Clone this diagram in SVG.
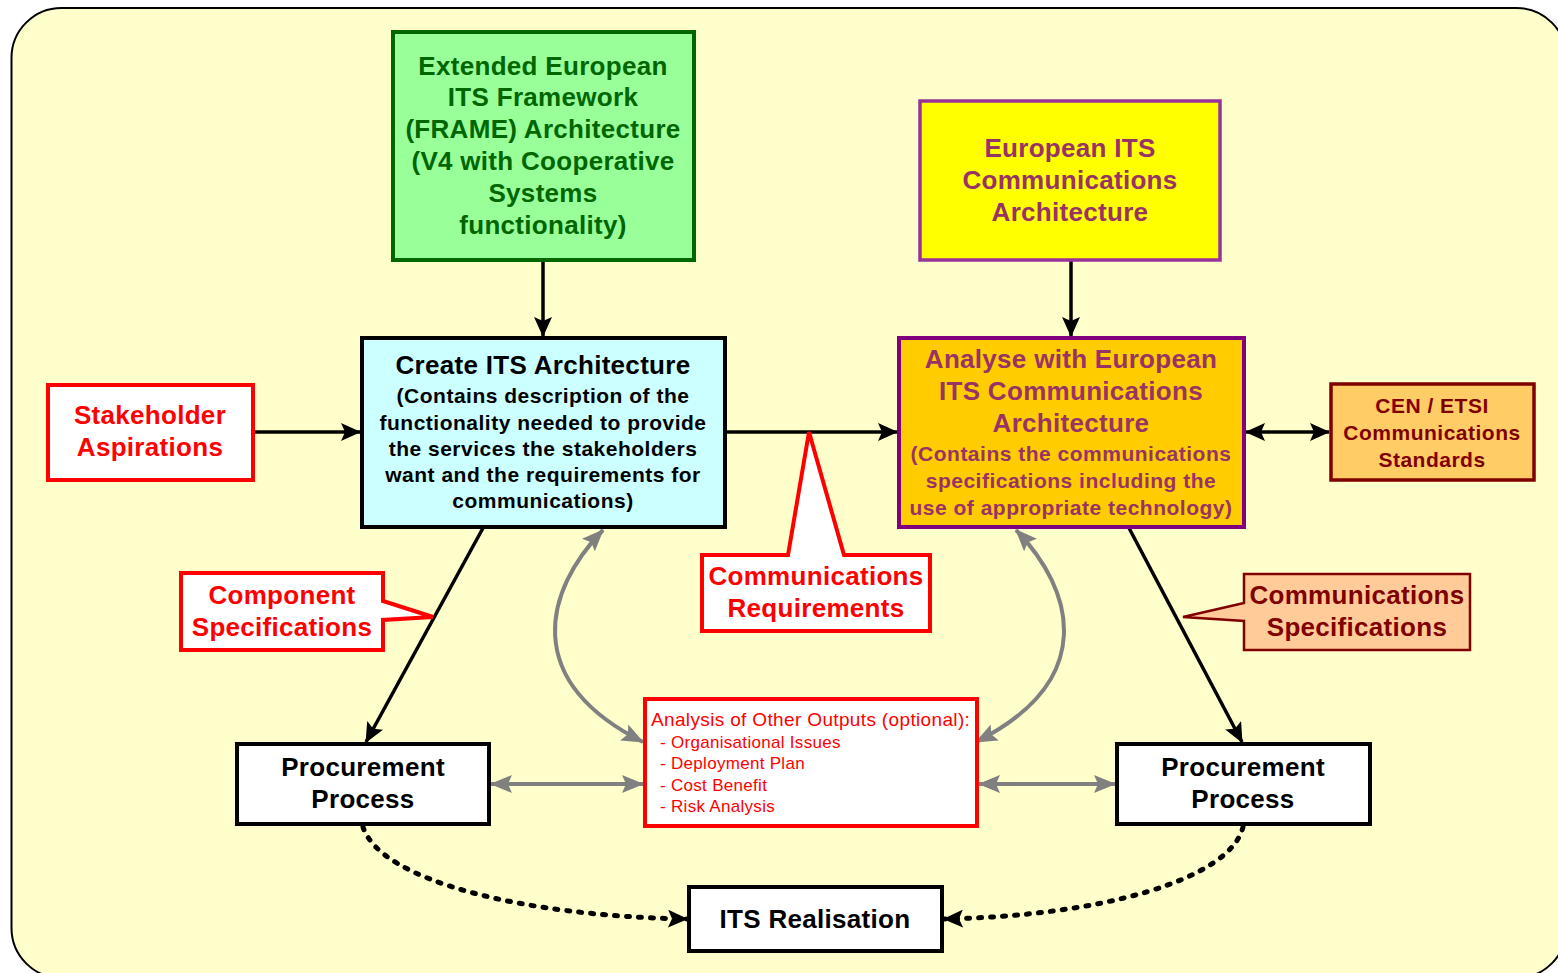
<svg xmlns="http://www.w3.org/2000/svg" width="1558" height="973" viewBox="0 0 1558 973">
  <style>
    text { font-family: "Liberation Sans", Arial, sans-serif; text-anchor: middle; dominant-baseline: central; }
    .b { font-weight: bold; }
    .t25 { font-size: 26px; letter-spacing: 0.3px; }
    .t20 { font-size: 21px; letter-spacing: 0.5px; }
    .left { text-anchor: start; }
    .head { font-size: 19px; letter-spacing: 0.35px; }
    .item { font-size: 17px; letter-spacing: 0.3px; }
    .box { stroke-width: 4; }
    .link { fill: none; stroke: #000; stroke-width: 3.5; }
    .grey { fill: none; stroke: #808080; stroke-width: 4; }
    .dots { fill: none; stroke: #000; stroke-width: 5; stroke-linecap: round; stroke-dasharray: 3 9; }
  </style>
  <defs>
    <marker id="ah" markerUnits="userSpaceOnUse" markerWidth="20" markerHeight="18" viewBox="0 0 20 18" refX="19" refY="9" orient="auto-start-reverse">
      <path d="M0,0 L20,9 L0,18 L4,9 z" fill="#000"/>
    </marker>
    <marker id="ahg" markerUnits="userSpaceOnUse" markerWidth="22" markerHeight="18" viewBox="0 0 22 18" refX="21" refY="9" orient="auto-start-reverse">
      <path d="M0,0 L22,9 L0,18 L4,9 z" fill="#808080"/>
    </marker>
  </defs>

  <!-- backdrop panel -->
  <rect x="11.5" y="8" width="1555" height="970" rx="50" fill="#ffffcc" stroke="#000" stroke-width="2"/>

  <!-- connectors -->
  <g id="connectors">
    <line class="link" x1="543" y1="261" x2="543" y2="336" marker-end="url(#ah)"/>
    <line class="link" x1="1071" y1="261" x2="1071" y2="336" marker-end="url(#ah)"/>
    <line class="link" x1="254" y1="432" x2="360" y2="432" marker-end="url(#ah)"/>
    <line class="link" x1="726" y1="432" x2="897" y2="432" marker-end="url(#ah)"/>
    <line class="link" x1="1246" y1="432" x2="1329" y2="432" marker-start="url(#ah)" marker-end="url(#ah)"/>
    <line class="link" x1="483" y1="528" x2="366" y2="742" marker-end="url(#ah)"/>
    <line class="link" x1="1129" y1="528" x2="1242" y2="742" marker-end="url(#ah)"/>
    <path class="grey" d="M603,530 C545,590 520,680 643,742" marker-start="url(#ahg)" marker-end="url(#ahg)"/>
    <path class="grey" d="M1016,530 C1074,590 1099,680 976,742" marker-start="url(#ahg)" marker-end="url(#ahg)"/>
    <line class="grey" x1="491" y1="784" x2="643" y2="784" marker-start="url(#ahg)" marker-end="url(#ahg)"/>
    <line class="grey" x1="979" y1="784" x2="1115" y2="784" marker-start="url(#ahg)" marker-end="url(#ahg)"/>
    <path class="dots" d="M363,827 C380,880 520,916 687,919" marker-end="url(#ah)"/>
    <path class="dots" d="M1243,827 C1230,880 1100,916 944,919" marker-end="url(#ah)"/>
  </g>

  <!-- FRAME architecture -->
  <g id="frame">
    <rect class="box" x="393" y="32" width="301" height="228" fill="#99ff99" stroke="#006600"/>
    <g fill="#006600">
      <text class="b t25" x="543" y="66">Extended European</text>
      <text class="b t25" x="543" y="97">ITS Framework</text>
      <text class="b t25" x="543" y="129">(FRAME) Architecture</text>
      <text class="b t25" x="543" y="161">(V4 with Cooperative</text>
      <text class="b t25" x="543" y="193">Systems</text>
      <text class="b t25" x="543" y="225">functionality)</text>
    </g>
  </g>

  <!-- European ITS communications architecture -->
  <g id="comms-arch">
    <rect x="920" y="101" width="300" height="159" fill="#ffff00" stroke="#993399" stroke-width="3.5"/>
    <g fill="#993366">
      <text class="b t25" x="1070" y="148">European ITS</text>
      <text class="b t25" x="1070" y="180">Communications</text>
      <text class="b t25" x="1070" y="212">Architecture</text>
    </g>
  </g>

  <!-- Create ITS architecture -->
  <g id="create">
    <rect class="box" x="362" y="338" width="363" height="189" fill="#ccffff" stroke="#000"/>
    <g fill="#000">
      <text class="b t25" x="543" y="365">Create ITS Architecture</text>
      <text class="b t20" x="543" y="395">(Contains description of the</text>
      <text class="b t20" x="543" y="422">functionality needed to provide</text>
      <text class="b t20" x="543" y="448">the services the stakeholders</text>
      <text class="b t20" x="543" y="474">want and the requirements for</text>
      <text class="b t20" x="543" y="500">communications)</text>
    </g>
  </g>

  <!-- Analyse with communications architecture -->
  <g id="analyse">
    <rect class="box" x="899" y="338" width="345" height="189" fill="#ffcc00" stroke="#800080"/>
    <g fill="#993366">
      <text class="b t25" x="1071" y="359">Analyse with European</text>
      <text class="b t25" x="1071" y="391">ITS Communications</text>
      <text class="b t25" x="1071" y="423">Architecture</text>
      <text class="b t20" x="1071" y="453">(Contains the communications</text>
      <text class="b t20" x="1071" y="480">specifications including the</text>
      <text class="b t20" x="1071" y="507">use of appropriate technology)</text>
    </g>
  </g>

  <!-- standards -->
  <g id="standards">
    <rect x="1331" y="384" width="203" height="96" fill="#ffcc66" stroke="#800000" stroke-width="3.5"/>
    <g fill="#800000">
      <text class="b t20" x="1432" y="405">CEN / ETSI</text>
      <text class="b t20" x="1432" y="432">Communications</text>
      <text class="b t20" x="1432" y="459">Standards</text>
    </g>
  </g>

  <!-- stakeholder aspirations -->
  <g id="stakeholders">
    <rect class="box" x="48" y="385" width="205" height="95" fill="#fff" stroke="#ff0000"/>
    <g fill="#ff0000">
      <text class="b t25" x="150" y="415">Stakeholder</text>
      <text class="b t25" x="150" y="447">Aspirations</text>
    </g>
  </g>

  <!-- callout: component specifications -->
  <g id="component-specs">
    <path d="M181,573 H383 V601 L433,617 L383,620 V650 H181 Z" fill="#fff" stroke="#ff0000" stroke-width="4"/>
    <g fill="#ff0000">
      <text class="b t25" x="282" y="595">Component</text>
      <text class="b t25" x="282" y="627">Specifications</text>
    </g>
  </g>

  <!-- callout: communications requirements -->
  <g id="comms-reqs">
    <path d="M702,555 H788 L809,432 L844,555 H930 V631 H702 Z" fill="#fff" stroke="#ff0000" stroke-width="4"/>
    <g fill="#ff0000">
      <text class="b t25" x="816" y="576">Communications</text>
      <text class="b t25" x="816" y="608">Requirements</text>
    </g>
  </g>

  <!-- callout: communications specifications -->
  <g id="comms-specs">
    <path d="M1244,574 H1470 V650 H1244 V621 L1183,617 L1244,603 Z" fill="#ffcc99" stroke="#800000" stroke-width="2.5"/>
    <g fill="#800000">
      <text class="b t25" x="1357" y="595">Communications</text>
      <text class="b t25" x="1357" y="627">Specifications</text>
    </g>
  </g>

  <!-- other outputs -->
  <g id="other-outputs">
    <rect class="box" x="645" y="699" width="332" height="127" fill="#fff" stroke="#ff0000"/>
    <g fill="#ff0000">
      <text class="left head" x="651" y="719">Analysis of Other Outputs (optional):</text>
      <text class="left item" x="660" y="742">- Organisational Issues</text>
      <text class="left item" x="660" y="763">- Deployment Plan</text>
      <text class="left item" x="660" y="785">- Cost Benefit</text>
      <text class="left item" x="660" y="806">- Risk Analysis</text>
    </g>
  </g>

  <!-- procurement (left) -->
  <g id="procurement-left">
    <rect class="box" x="237" y="744" width="252" height="80" fill="#fff" stroke="#000"/>
    <text class="b t25" x="363" y="767">Procurement</text>
    <text class="b t25" x="363" y="799">Process</text>
  </g>

  <!-- procurement (right) -->
  <g id="procurement-right">
    <rect class="box" x="1117" y="744" width="253" height="80" fill="#fff" stroke="#000"/>
    <text class="b t25" x="1243" y="767">Procurement</text>
    <text class="b t25" x="1243" y="799">Process</text>
  </g>

  <!-- realisation -->
  <g id="realisation">
    <rect class="box" x="689" y="887" width="253" height="64" fill="#fff" stroke="#000"/>
    <text class="b t25" x="815" y="919">ITS Realisation</text>
  </g>
</svg>
